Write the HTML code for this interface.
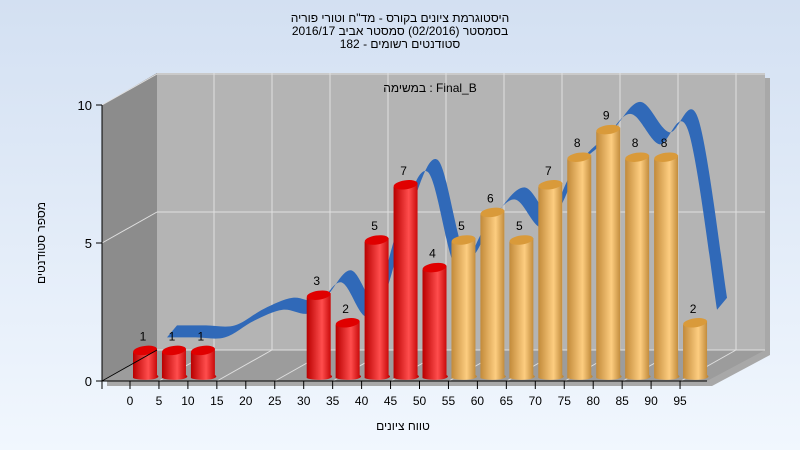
<!DOCTYPE html>
<html><head><meta charset="utf-8"><style>
body{margin:0;width:800px;height:450px;overflow:hidden;font-family:"Liberation Sans",sans-serif}
</style></head><body>
<svg width="800" height="450" xmlns="http://www.w3.org/2000/svg" id="chart">
<defs>
<linearGradient id="bg" x1="0" y1="0" x2="0" y2="1"><stop offset="0" stop-color="#d3e0f2"/><stop offset="1" stop-color="#f1f7fe"/></linearGradient>
<linearGradient id="red" x1="0" y1="0" x2="1" y2="0"><stop offset="0" stop-color="#b80000"/><stop offset="0.6" stop-color="#ff4d4d"/><stop offset="1" stop-color="#c00000"/></linearGradient>
<linearGradient id="org" x1="0" y1="0" x2="1" y2="0"><stop offset="0" stop-color="#c28a3a"/><stop offset="0.6" stop-color="#fdcd80"/><stop offset="1" stop-color="#b98232"/></linearGradient>
</defs>
<rect width="800" height="450" fill="url(#bg)"/>
<g font-size="12" text-anchor="middle" fill="#000">
<text x="400" y="22">היסטוגרמת ציונים בקורס - מד"ח וטורי פוריה</text>
<text x="400" y="35" direction="rtl">בסמסטר  (02/2016)  סמסטר אביב 2016/17</text>
<text x="400" y="48" direction="rtl">סטודנטים רשומים - 182</text>
</g>
<polygon points="107,110 162,78 770,78 770,355 712,386 107,386" fill="#a8a8a8"/>
<polygon points="157,73 765,73 765,350 157,350" fill="#b4b4b4"/>
<polygon points="102,105 157,73 157,350 102,381" fill="#8c8c8c"/>
<polygon points="102,381 157,350 765,350 707,381" fill="#9c9c9c"/>
<g id="grid" stroke="#e0e0e0" stroke-width="1"></g>
<text x="430" y="92" font-size="12" text-anchor="middle">במשימה : Final_B</text>
<g id="ribbon"></g>
<g id="bars"></g>
<g id="axes"></g>
<text transform="translate(45,243) rotate(-90)" font-size="12" text-anchor="middle">מספר סטודנטים</text>
<text x="403" y="430" font-size="12" text-anchor="middle">טווח ציונים</text>
</svg>
<script>
const categories=["0","5","10","15","20","25","30","35","40","45","50","55","60","65","70","75","80","85","90","95"];
const counts=[1,1,1,0,0,0,3,2,5,7,4,5,6,5,7,8,9,8,8,2];
const ribbonValues=[1,1,1,1.6,2,1.9,3,1.8,5,7,3.5,5,6,5,7,8,9.1,8,8.5,2];
const yTicks=[0,5,10];
const passThreshold=55;
const NS="http://www.w3.org/2000/svg";
const X0=102,Y0=381,YTOP=105,STEP=28.95,DX=55,DY=-31;
const yScale=v=>Y0-(v/10)*(Y0-YTOP);
const xCat=i=>130+STEP*i;
function mk(tag,attrs,parent){const e=document.createElementNS(NS,tag);for(const k in attrs)e.setAttribute(k,attrs[k]);parent.appendChild(e);return e;}
const grid=document.getElementById('grid');
for(let x=214;x<765;x+=58){const l=mk('line',{x1:x,y1:73,x2:x,y2:350},grid);


const d=mk('line',{x1:x,y1:350,x2:x-DX,y2:381},grid);

}
yTicks.forEach(t=>{const y=yScale(t);
const l=mk('line',{x1:157,y1:y+DY,x2:765,y2:y+DY},grid);


const d=mk('line',{x1:102,y1:y,x2:157,y2:y+DY},grid);

});
const rib=document.getElementById('ribbon');
const RX=47,RY=-28,TH=12;
const pts=ribbonValues.map((v,i)=>[xCat(i)+RX,yScale(v)+RY]);
function spline(p){let d='M'+p[0][0]+','+p[0][1];for(let i=0;i<p.length-1;i++){const a=p[Math.max(0,i-1)],b=p[i],c=p[i+1],e=p[Math.min(p.length-1,i+2)];
const c1=[b[0]+(c[0]-a[0])/6,b[1]+(c[1]-a[1])/6],c2=[c[0]-(e[0]-b[0])/6,c[1]-(e[1]-b[1])/6];d+=' C'+c1+' '+c2+' '+c;}return d;}
const ribbonTop=spline(pts);
const botPts=pts.map(p=>[p[0]-10,p[1]+TH]).reverse();
const ribbonBot=spline(botPts).replace(/^M/,' L');
const rp=mk('path',{d:ribbonTop+ribbonBot+' Z',fill:'#3069b8'},rib);


const bars=document.getElementById('bars');
counts.forEach((v,i)=>{if(v<=0)return;
const cx=xCat(i)+15,w=24,by=378;
const isPass=parseInt(categories[i])>=passThreshold;
const g=mk('g',{},bars);


const topY=by-(v/10)*(Y0-YTOP);
mk('path',{d:`M${cx-w/2},${topY+2} L${cx-w/2},${by} A${w/2},3 0 0 0 ${cx+w/2},${by-3} L${cx+w/2},${topY-2} Z`,fill:isPass?'url(#org)':'url(#red)'},g);
mk('ellipse',{cx:cx,cy:topY,rx:w/2,ry:4.5,fill:isPass?'#d99a3a':'#e00000',transform:`rotate(-8 ${cx} ${topY})`},g);
const t=mk('text',{x:cx-2,y:topY-10,'font-size':12,'text-anchor':'middle'},g);t.textContent=v;

});
const ax=document.getElementById('axes');
mk('line',{x1:X0,y1:YTOP,x2:X0,y2:Y0,stroke:'#000'},ax);
mk('line',{x1:X0,y1:Y0,x2:707,y2:Y0,stroke:'#000'},ax);
mk('line',{x1:X0,y1:Y0,x2:157,y2:350,stroke:'#000'},ax);
mk('line',{x1:X0,y1:Y0+8,x2:X0,y2:Y0,stroke:'#000'},ax);
yTicks.forEach(t=>{const y=yScale(t);mk('line',{x1:X0-6,y1:y,x2:X0,y2:y,stroke:'#000'},ax);
const tx=mk('text',{x:X0-10,y:y+5,'font-size':13,'text-anchor':'end'},ax);tx.textContent=t;

});
categories.forEach((c,i)=>{const x=xCat(i);mk('line',{x1:x,y1:Y0,x2:x,y2:Y0+8,stroke:'#000'},ax);
const tx=mk('text',{x:x,y:Y0+24,'font-size':12,'text-anchor':'middle'},ax);tx.textContent=c;

});
</script>
</body></html>
